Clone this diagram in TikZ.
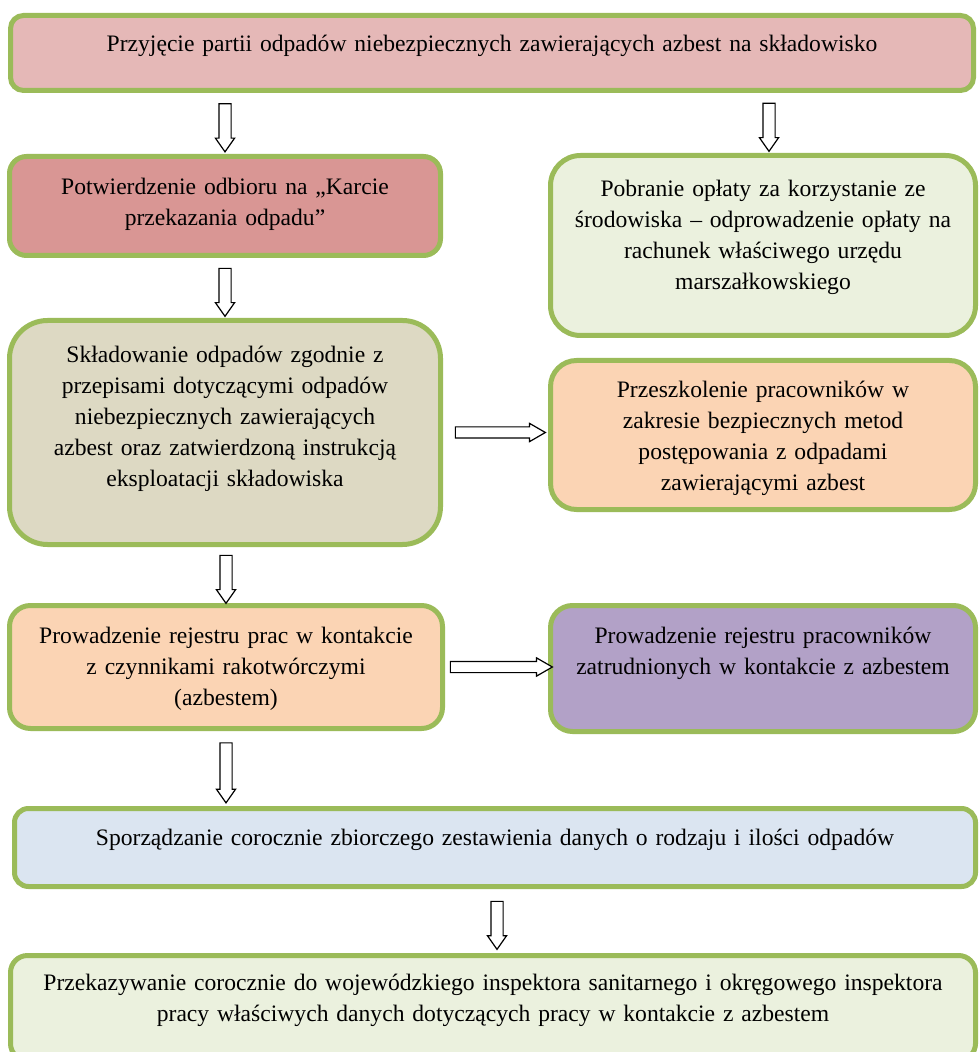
\documentclass[tikz,border=0pt]{standalone}
\usepackage{fontspec}
\setmainfont{Liberation Serif}
\usetikzlibrary{shapes.arrows}

\definecolor{ramka}{HTML}{9BBB59}
\definecolor{rozowy}{HTML}{E5B8B7}
\definecolor{czerwony}{HTML}{D99694}
\definecolor{zielony}{HTML}{EBF1DE}
\definecolor{szary}{HTML}{DDD9C3}
\definecolor{brzoskw}{HTML}{FBD4B4}
\definecolor{fiolet}{HTML}{B2A1C7}
\definecolor{niebieski}{HTML}{DBE5F1}

\begin{document}
\begin{tikzpicture}[x=0.5pt, y=-0.5pt, font=\fontsize{11.8}{15.5}\selectfont,
  box/.style={rectangle, draw=ramka, line width=2.5pt, rounded corners=#1,
    align=center, inner xsep=4pt, inner ysep=0pt, text height=19pt},
  flow/.style={single arrow, draw, fill=white, line width=0.6pt,
    minimum width=9pt, single arrow head extend=1.75pt,
    single arrow tip angle=70, inner xsep=0pt, inner ysep=2.75pt,
    minimum height=24pt, sloped, allow upside down},
  flowh/.style={flow, minimum width=8.5pt, inner ysep=2.5pt, single arrow tip angle=60}]

\useasboundingbox (0,0) rectangle (979,1052);

\node[box=6.5pt, fill=rozowy, text width=473.5pt, text height=18pt, text depth=19.5pt] (b1) at (492,53)
  {Przyjęcie partii odpadów niebezpiecznych zawierających azbest na składowisko};

\node[box=8.5pt, fill=czerwony, text width=207.5pt, text depth=30.5pt] (b2) at (225,206)
  {Potwierdzenie odbioru na „Karcie\\ przekazania odpadu”};
\node[box=15pt, fill=zielony, text width=204.5pt, text height=20.5pt, text depth=69.5pt] (b3) at (763,245.5)
  {Pobranie opłaty za korzystanie ze\\ środowiska – odprowadzenie opłaty na\\ rachunek właściwego urzędu\\ marszałkowskiego};

\node[box=19pt, fill=szary, text width=207.5pt, text height=21pt, text depth=91pt] (b4) at (225,432.5)
  {Składowanie odpadów zgodnie z\\ przepisami dotyczącymi odpadów\\ niebezpiecznych zawierających\\ azbest oraz zatwierdzoną instrukcją\\ eksploatacji składowiska};
\node[box=13pt, fill=brzoskw, text width=204.5pt, text height=18.5pt, text depth=56pt] (b5) at (763,435)
  {Przeszkolenie pracowników w\\ zakresie bezpiecznych metod\\ postępowania z odpadami\\ zawierającymi azbest};

\node[box=10.5pt, fill=brzoskw, text width=208.5pt, text depth=42.5pt] (b6) at (226,667)
  {Prowadzenie rejestru prac w kontakcie\\ z czynnikami rakotwórczymi\\ (azbestem)};
\node[box=11pt, fill=fiolet, text width=204.5pt, text height=18.75pt, text depth=44.25pt] (b7) at (763,668.5)
  {Prowadzenie rejestru pracowników\\ zatrudnionych w kontakcie z azbestem};

\node[box=7pt, fill=niebieski, text width=472.5pt, text height=18.25pt, text depth=20.75pt] (b8) at (495,847.5)
  {Sporządzanie corocznie zbiorczego zestawienia danych o rodzaju i ilości odpadów};

\node[box=8.5pt, fill=zielony, text width=474.5pt, text height=17.5pt, text depth=35pt] (b9) at (493,1008)
  {Przekazywanie corocznie do wojewódzkiego inspektora sanitarnego i okręgowego inspektora\\ pracy właściwych danych dotyczących pracy w kontakcie z azbestem};

% strzalki
\coordinate (p3) at ([xshift=3pt]b3.north);
\coordinate (p9) at ([xshift=2pt]b9.north);
\path (b1.south -| b2.north) -- node[flow] (s1) {} (b2.north);
\path (b1.south -| p3) -- node[flow] (s2) {} (p3);
\path (b2.south) -- node[flow] (s3) {} (b2.south |- b4.north);
\path (b4.east) -- node[flowh, minimum height=45pt] (s4) {} (b4.east -| b5.west);
\path (b4.south -| b6.north) -- node[flow] (s5) {} (b6.north);
\path (b6.east) -- node[flowh, minimum height=51pt] (s6) {} (b6.east -| b7.west);
\path (b6.south) -- node[flow, minimum height=30pt] (s7) {} (b6.south |- b8.north);
\path (b8.south -| p9) -- node[flow] (s8) {} (p9);
\end{tikzpicture}
\end{document}
